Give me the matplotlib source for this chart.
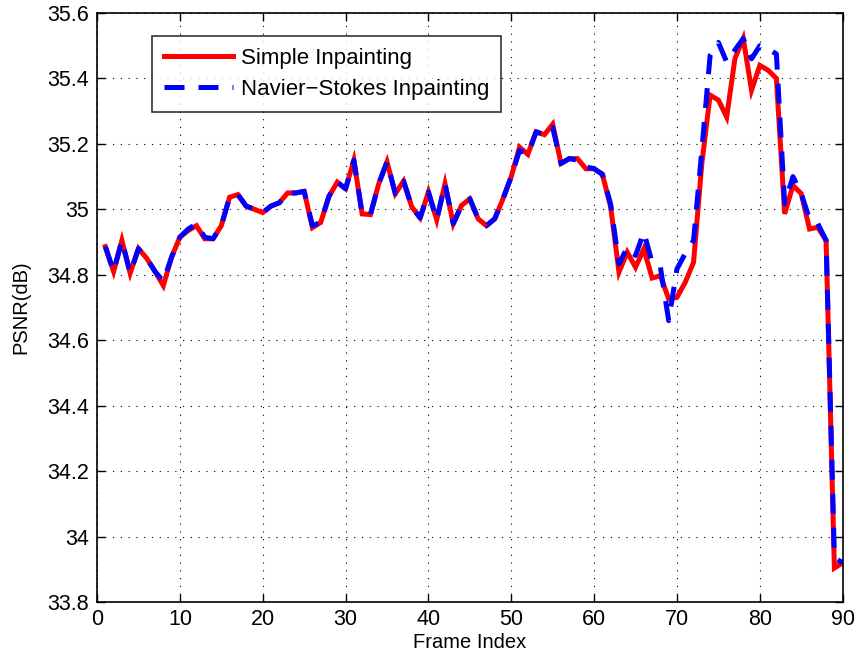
import matplotlib
matplotlib.use("Agg")
import matplotlib.pyplot as plt
from matplotlib.ticker import FixedLocator, FixedFormatter

plt.rcParams['font.family'] = ['Liberation Sans', 'DejaVu Sans']

frames = list(range(1, 91))

simple_psnr = [
    34.886, 34.810, 34.905, 34.805, 34.880, 34.850, 34.810, 34.767, 34.854, 34.915,
    34.935, 34.950, 34.910, 34.910, 34.950, 35.037, 35.045, 35.010, 35.000, 34.990,
    35.010, 35.020, 35.050, 35.050, 35.055, 34.944, 34.960, 35.040, 35.083, 35.063,
    35.150, 34.986, 34.984, 35.078, 35.145, 35.048, 35.086, 35.007, 34.974, 35.053,
    34.968, 35.078, 34.956, 35.012, 35.032, 34.971, 34.950, 34.971, 35.032, 35.100,
    35.190, 35.168, 35.237, 35.228, 35.260, 35.140, 35.155, 35.155, 35.124, 35.124,
    35.107, 35.007, 34.808, 34.869, 34.823, 34.879, 34.790, 34.797, 34.726, 34.731,
    34.777, 34.838, 35.140, 35.349, 35.334, 35.282, 35.461, 35.522, 35.364, 35.440,
    35.425, 35.400, 34.986, 35.073, 35.048, 34.940, 34.945, 34.905, 33.904, 33.920,
]

ns_psnr = [
    34.886, 34.810, 34.905, 34.805, 34.880, 34.850, 34.810, 34.780, 34.854, 34.915,
    34.940, 34.955, 34.915, 34.910, 34.950, 35.037, 35.045, 35.010, 35.000, 34.990,
    35.010, 35.020, 35.050, 35.050, 35.055, 34.950, 34.960, 35.040, 35.083, 35.063,
    35.150, 34.986, 34.984, 35.078, 35.145, 35.048, 35.086, 35.007, 34.974, 35.053,
    34.968, 35.078, 34.956, 35.012, 35.032, 34.971, 34.950, 34.971, 35.032, 35.100,
    35.180, 35.168, 35.237, 35.228, 35.250, 35.140, 35.155, 35.150, 35.130, 35.124,
    35.107, 35.015, 34.833, 34.884, 34.859, 34.930, 34.838, 34.823, 34.660, 34.818,
    34.865, 34.905, 35.180, 35.470, 35.510, 35.450, 35.487, 35.522, 35.460, 35.500,
    35.490, 35.475, 35.017, 35.100, 35.048, 34.970, 34.956, 34.905, 33.935, 33.920,
]

x_ticks = [0, 10, 20, 30, 40, 50, 60, 70, 80, 90]
y_ticks = [33.8, 34.0, 34.2, 34.4, 34.6, 34.8, 35.0, 35.2, 35.4, 35.6]
y_tick_labels = ["33.8", "34", "34.2", "34.4", "34.6", "34.8", "35", "35.2", "35.4", "35.6"]

fig = plt.figure(figsize=(8.61, 6.63), dpi=100)
ax = fig.add_axes([0.1127, 0.092, 0.866, 0.8884])

ax.plot(frames, simple_psnr, color='#ff0000', lw=3.6, label='Simple Inpainting',
        solid_joinstyle='miter')
ax.plot(frames, ns_psnr, color='#0000ff', lw=3.6, linestyle=(0, (4.0, 2.8)),
        label='Navier\u2212Stokes Inpainting', dash_capstyle='butt')

ax.set_xlim(0, 90)
ax.set_ylim(33.8, 35.6)
ax.xaxis.set_major_locator(FixedLocator(x_ticks))
ax.yaxis.set_major_locator(FixedLocator(y_ticks))
ax.yaxis.set_major_formatter(FixedFormatter(y_tick_labels))

ax.grid(True, color='black', linestyle=(0, (1, 6)), linewidth=0.8)
ax.tick_params(direction='in', length=6, width=1, labelsize=15.5,
               top=True, right=True, colors='black')
ax.tick_params(axis='x', pad=5)
ax.tick_params(axis='y', pad=6)
for s in ax.spines.values():
    s.set_linewidth(1.2)

ax.set_xlabel('Frame Index', fontsize=14.5, labelpad=2)
ax.set_ylabel('PSNR(dB)', fontsize=14.5, labelpad=12)

leg = ax.legend(loc='upper left', bbox_to_anchor=(0.0737, 0.961), fontsize=16,
                frameon=True, fancybox=False, edgecolor='black',
                handlelength=3.1, handletextpad=0.35, borderpad=0.55,
                labelspacing=0.42, borderaxespad=0)
leg.get_frame().set_linewidth(1.2)

fig.savefig('out.png', dpi=100)
